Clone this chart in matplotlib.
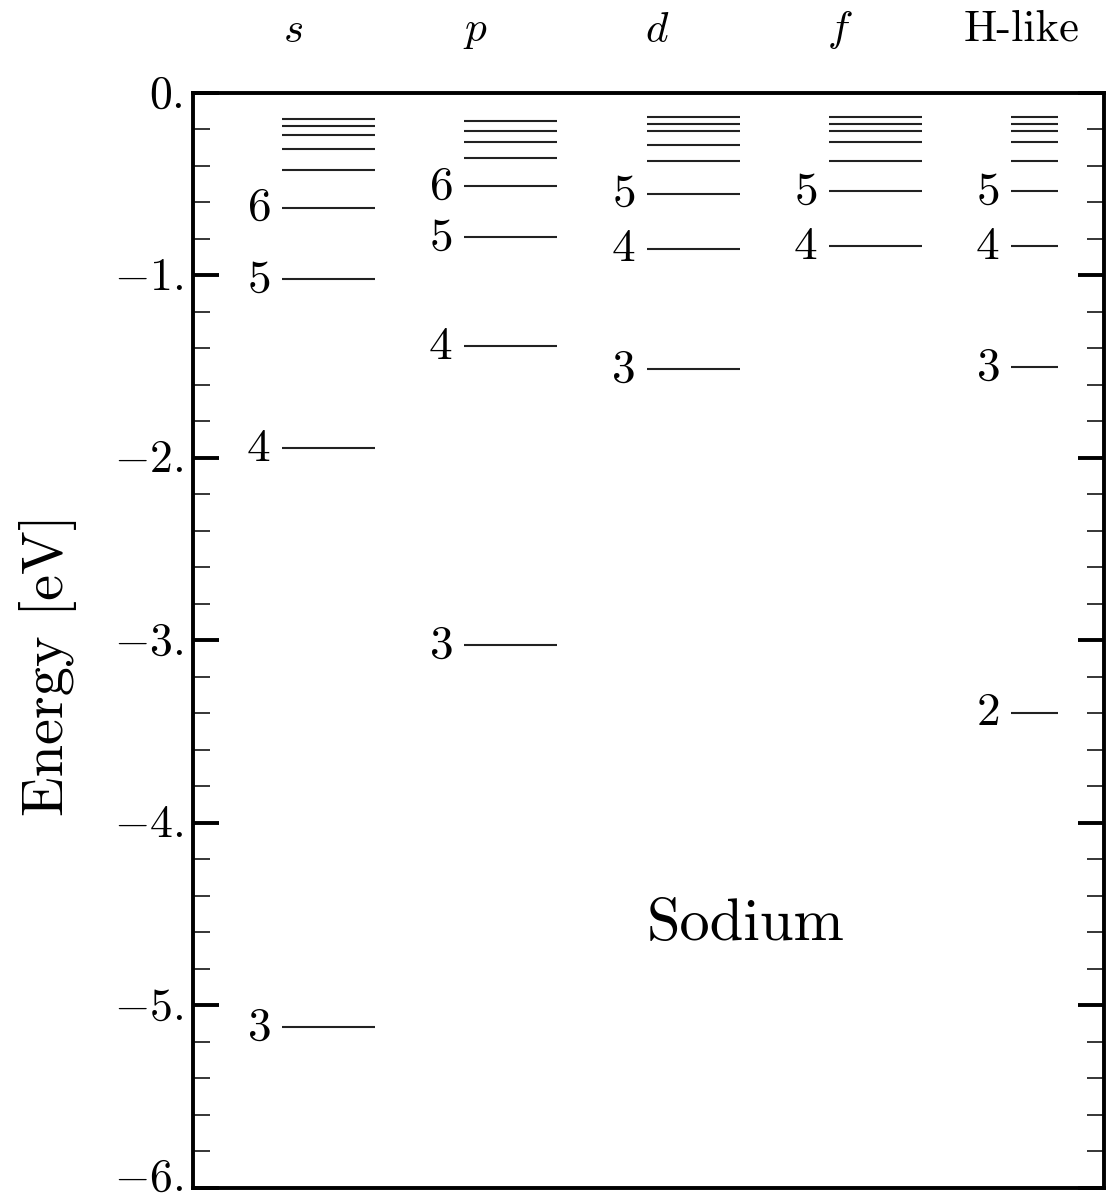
import matplotlib
matplotlib.use("Agg")
import matplotlib.pyplot as plt
from matplotlib.ticker import MultipleLocator, FixedLocator, FixedFormatter
from matplotlib.transforms import ScaledTranslation

plt.rcParams['mathtext.fontset'] = 'cm'

# ---- data (eV) ----
columns = ["$s$", "$p$", "$d$", "$f$", "H-like"]
s_levels = [-5.12, -1.947, -1.022, -0.628, -0.424, -0.307, -0.232, -0.183, -0.145]
s_labels = ["3", "4", "5", "6", "", "", "", "", ""]
p_levels = [-3.025, -1.389, -0.792, -0.511, -0.358, -0.270, -0.206, -0.155]
p_labels = ["3", "4", "5", "6", "", "", "", ""]
d_levels = [-1.514, -0.854, -0.551, -0.374, -0.283, -0.206, -0.170, -0.131]
d_labels = ["3", "4", "5", "", "", "", "", ""]
f_levels = [-0.840, -0.539, -0.374, -0.270, -0.206, -0.170, -0.131]
f_labels = ["4", "5", "", "", "", "", ""]
h_levels = [-3.397, -1.503, -0.841, -0.537, -0.374, -0.270, -0.206, -0.170, -0.131]
h_labels = ["2", "3", "4", "5", "", "", "", "", ""]
ytick_values = [0, -1, -2, -3, -4, -5, -6]
ytick_labels = ["$0.$", "$-1.$", "$-2.$", "$-3.$", "$-4.$", "$-5.$", "$-6.$"]

all_levels = [s_levels, p_levels, d_levels, f_levels, h_levels]
all_labels = [s_labels, p_labels, d_labels, f_labels, h_labels]
line_widths = [0.51, 0.51, 0.51, 0.51, 0.26]

W, H = 1108, 1202
fig = plt.figure(figsize=(W / 100, H / 100), dpi=100)
left_px, right_px, top_px, bot_px = 193, 1104, 93, 1187.5
ax = fig.add_axes([left_px / W, 1 - bot_px / H, (right_px - left_px) / W, (bot_px - top_px) / H])
ax.set_xlim(0, 5)
ax.set_ylim(-6, 0)

for i, (lev, lab) in enumerate(zip(all_levels, all_labels)):
    x0 = i + 0.49
    x1 = x0 + line_widths[i]
    ax.hlines(lev, x0, x1, colors='#222222', linewidth=1.5)
    for e, t in zip(lev, lab):
        if t:
            ax.text(x0 - 0.065, e, "$" + t + "$", ha='right', va='center', fontsize=34)

# column titles
trans = ax.get_xaxis_transform()
for i, c in enumerate(columns):
    if c.startswith("$"):
        ax.text(i + 0.55, 1.058, c, transform=trans, ha='center', va='center',
                fontsize=31, clip_on=False)
    else:
        ax.text(i + 0.548, 1.058, c, transform=trans, ha='center', va='center',
                fontsize=32, family='cmr10', clip_on=False)

ax.text(3.03, -4.56, "Sodium", ha='center', va='center', fontsize=43.5, family='cmr10')

fig.text(48 / W, 1 - 665 / H, "Energy [eV]", rotation=90, ha='center', va='center',
         fontsize=42, family='cmr10')

# axes styling
for sp in ax.spines.values():
    sp.set_linewidth(2.8)
ax.set_xticks([])
ax.yaxis.set_major_locator(FixedLocator(ytick_values))
ax.yaxis.set_major_formatter(FixedFormatter(ytick_labels))
ax.yaxis.set_minor_locator(MultipleLocator(0.2))
ax.tick_params(axis='y', which='major', direction='in', length=19, width=2.8,
               left=True, right=True, labelsize=33, pad=7)
ax.tick_params(axis='y', which='minor', direction='in', length=12, width=1.1,
               left=True, right=True)
labels = ax.get_yticklabels()
for k, lbl in enumerate(labels):
    dy = 14 if k == len(labels) - 1 else 3
    lbl.set_transform(lbl.get_transform() + ScaledTranslation(0, dy / 100, fig.dpi_scale_trans))

fig.savefig("out.png", dpi=100)
